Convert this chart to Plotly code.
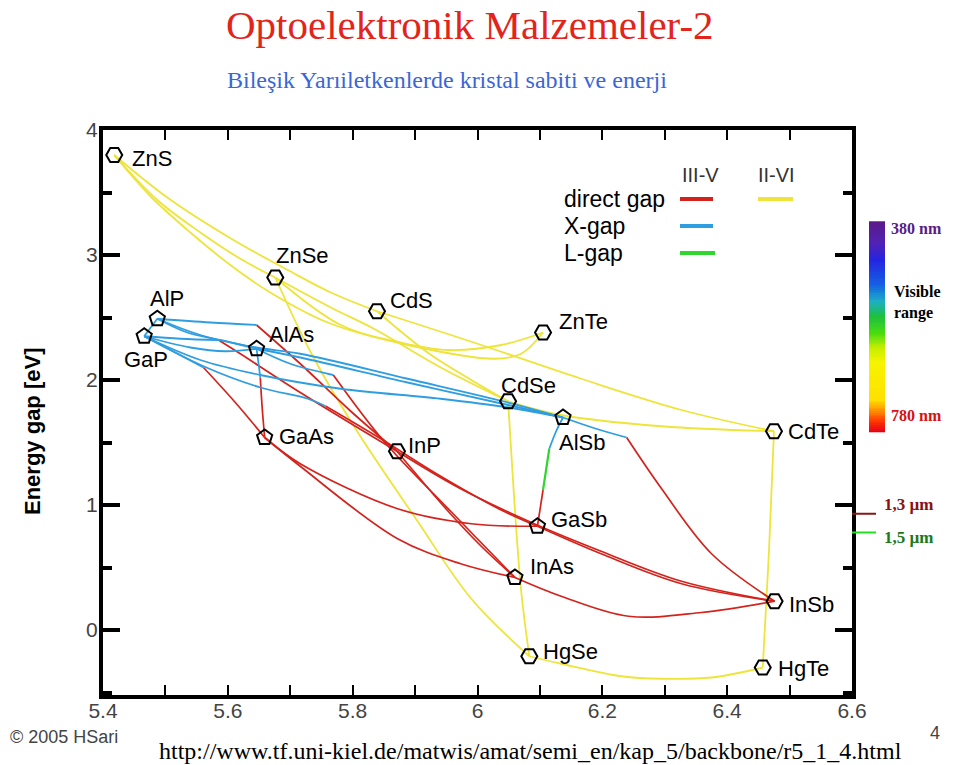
import numpy as np
import plotly.graph_objects as go

# ---------------- data ----------------
COMPOUNDS = ["ZnS", "ZnSe", "CdS", "ZnTe", "AlP", "GaP", "AlAs", "CdSe", "AlSb",
             "CdTe", "GaAs", "InP", "GaSb", "InAs", "InSb", "HgSe", "HgTe"]
LATTICE_A = [5.418, 5.676, 5.839, 6.105, 5.487, 5.466, 5.646, 6.049, 6.137,
             6.475, 5.659, 5.871, 6.096, 6.060, 6.476, 6.083, 6.457]
ENERGY_GAP = [3.80, 2.82, 2.55, 2.38, 2.49, 2.35, 2.25, 1.83, 1.70,
              1.59, 1.54, 1.43, 0.83, 0.42, 0.23, -0.21, -0.30]

# II-VI direct gap curves (lattice constant, gap)
ZNS_ZNSE = [(5.418, 3.80), (5.487, 3.44), (5.556, 3.18), (5.620, 2.97), (5.676, 2.82)]
ZNS_CDS = [(5.418, 3.80), (5.503, 3.46), (5.609, 3.12), (5.696, 2.88), (5.765, 2.70), (5.839, 2.55)]
ZNS_ZNTE = [(5.418, 3.80), (5.476, 3.47), (5.540, 3.18), (5.604, 2.92), (5.668, 2.70), (5.760, 2.46),
            (5.888, 2.28), (6.027, 2.17), (6.070, 2.21), (6.105, 2.38)]
ZNSE_ZNTE = [(5.676, 2.82), (5.781, 2.44), (5.877, 2.30), (5.953, 2.24), (6.038, 2.28), (6.105, 2.38)]
ZNSE_CDSE = [(5.676, 2.82), (5.765, 2.58), (5.834, 2.41), (5.941, 2.10), (6.049, 1.83)]
ZNSE_HGSE = [(5.676, 2.82), (5.733, 2.22), (5.802, 1.63), (5.904, 0.87), (5.990, 0.25), (6.083, -0.21)]
CDS_CDSE = [(5.839, 2.55), (5.920, 2.22), (5.990, 2.00), (6.049, 1.83)]
CDS_CDTE = [(5.839, 2.55), (5.994, 2.30), (6.166, 2.01), (6.327, 1.76), (6.475, 1.59)]
CDSE_CDTE = [(6.049, 1.83), (6.134, 1.72), (6.295, 1.63), (6.475, 1.59)]
CDSE_HGSE = [(6.049, 1.83), (6.059, 1.03), (6.070, 0.31), (6.083, -0.21)]
HGSE_HGTE = [(6.083, -0.21), (6.134, -0.27), (6.231, -0.37), (6.295, -0.39), (6.375, -0.38), (6.457, -0.30)]
CDTE_HGTE = [(6.475, 1.59), (6.467, 0.63), (6.457, -0.30)]

# III-V indirect (X) gap parts
ALP_GAP_X = [(5.487, 2.49), (5.466, 2.35)]
ALP_ALAS_X = [(5.487, 2.49), (5.535, 2.38), (5.588, 2.32), (5.646, 2.25)]
GAP_ALAS_X = [(5.466, 2.35), (5.540, 2.26), (5.596, 2.23), (5.646, 2.25)]
ALP_INP_X = [(5.487, 2.49), (5.572, 2.46), (5.646, 2.44)]
GAP_INP_X = [(5.466, 2.35), (5.524, 2.33), (5.585, 2.32)]
GAP_GAAS_X = [(5.466, 2.35), (5.516, 2.22), (5.561, 2.10)]
ALAS_GAAS_X = [(5.646, 2.25), (5.649, 2.14), (5.652, 2.02)]
ALAS_ALSB_X = [(5.646, 2.25), (5.716, 2.18), (5.888, 1.98), (6.049, 1.80), (6.137, 1.70)]
ALP_ALSB_X = [(5.487, 2.49), (5.556, 2.36), (5.646, 2.26), (5.716, 2.21), (5.888, 2.01), (6.049, 1.82), (6.137, 1.70)]
GAP_ALSB_X = [(5.466, 2.35), (5.556, 2.16), (5.652, 2.04), (5.781, 1.93), (5.941, 1.85), (6.049, 1.78), (6.137, 1.70)]
ALAS_INAS_X = [(5.646, 2.25), (5.700, 2.13), (5.769, 2.04)]
GAP_GASB_X = [(5.466, 2.35), (5.561, 2.11), (5.652, 1.94), (5.728, 1.85), (5.757, 1.79)]
ALSB_INSB_X = [(6.137, 1.70), (6.190, 1.61), (6.239, 1.54)]
ALSB_GASB_X = [(6.137, 1.70), (6.126, 1.59), (6.115, 1.45)]

# III-V L gap part
ALSB_GASB_L = [(6.115, 1.45), (6.105, 1.12)]

# III-V direct gap parts
ALP_INP_D = [(5.646, 2.44), (5.716, 2.13), (5.797, 1.75), (5.871, 1.43)]
GAP_INP_D = [(5.585, 2.32), (5.620, 2.21), (5.716, 1.90), (5.871, 1.43)]
GAP_GAAS_D = [(5.561, 2.10), (5.612, 1.82), (5.659, 1.54)]
ALAS_GAAS_D = [(5.652, 2.02), (5.655, 1.78), (5.659, 1.54)]
ALAS_INAS_D = [(5.769, 2.04), (5.850, 1.51), (5.957, 0.95), (6.060, 0.42)]
GAP_GASB_D = [(5.757, 1.79), (5.845, 1.53), (5.941, 1.23), (6.038, 0.96), (6.096, 0.83)]
GAAS_GASB = [(5.659, 1.54), (5.716, 1.33), (5.872, 0.97), (5.990, 0.85), (6.096, 0.83)]
GAAS_INAS = [(5.659, 1.54), (5.716, 1.31), (5.872, 0.73), (5.973, 0.53), (6.060, 0.42)]
INP_INAS = [(5.871, 1.43), (5.953, 0.95), (6.006, 0.67), (6.060, 0.42)]
INP_INSB = [(5.871, 1.43), (5.973, 1.13), (6.091, 0.85), (6.198, 0.63), (6.327, 0.39), (6.476, 0.23)]
GASB_INSB = [(6.096, 0.83), (6.198, 0.61), (6.327, 0.37), (6.476, 0.23)]
INAS_INSB = [(6.060, 0.42), (6.134, 0.27), (6.242, 0.11), (6.359, 0.14), (6.476, 0.23)]
ALSB_INSB_D = [(6.239, 1.54), (6.295, 1.13), (6.375, 0.61), (6.476, 0.23)]
ALSB_GASB_D = [(6.105, 1.12), (6.096, 0.83)]

II_VI_DIRECT = [ZNS_ZNSE, ZNS_CDS, ZNS_ZNTE, ZNSE_ZNTE, ZNSE_CDSE, ZNSE_HGSE, CDS_CDSE,
                CDS_CDTE, CDSE_CDTE, CDSE_HGSE, HGSE_HGTE, CDTE_HGTE]
III_V_X = [ALP_GAP_X, ALP_ALAS_X, GAP_ALAS_X, ALP_INP_X, GAP_INP_X, GAP_GAAS_X, ALAS_GAAS_X,
           ALAS_ALSB_X, ALP_ALSB_X, GAP_ALSB_X, ALAS_INAS_X, GAP_GASB_X, ALSB_INSB_X, ALSB_GASB_X]
III_V_L = [ALSB_GASB_L]
III_V_DIRECT = [ALP_INP_D, GAP_INP_D, GAP_GAAS_D, ALAS_GAAS_D, ALAS_INAS_D, GAP_GASB_D, GAAS_GASB,
                GAAS_INAS, INP_INAS, INP_INSB, GASB_INSB, INAS_INSB, ALSB_INSB_D, ALSB_GASB_D]

VISIBLE_NM = [380, 780]          # visible range
FIBER_LEVELS = [0.93, 0.78]      # 1,3 um and 1,5 um marks (eV, as drawn)
FIBER_TEXT = ["1,3 µm", "1,5 µm"]

# ---------------- styles ----------------
YELLOW = "#eee43a"
RED = "#d4231c"
BLUE = "#2f9ee0"
GREEN = "#2ed62e"
HEX_SET = {"ZnS", "ZnSe", "CdS", "ZnTe", "CdSe", "CdTe", "HgSe", "HgTe", "InP", "InSb"}
LABEL_SHIFT = {  # pixel offsets of the name from its marker
    "ZnS": (16, -3), "ZnSe": (-1, 22), "CdS": (11, 11), "ZnTe": (14, 11), "AlP": (-9, 20),
    "GaP": (-22, -23), "AlAs": (10, 14), "CdSe": (-9, 16), "AlSb": (-6, -25), "CdTe": (12, 0),
    "GaAs": (12, 1), "InP": (9, 6), "GaSb": (12, 7), "InAs": (13, 11), "InSb": (12, -3),
    "HgSe": (12, 5), "HgTe": (13, -1)}

# page body adds an 8 px offset; the figure is sized to fill the rest of the window
OFF = 8
W, H = 960 - OFF, 765 - OFF
L_PX, T_PX = 103 - OFF, 130 - OFF            # plot frame left / top (reference pixels - offset)
R_PX = 60
B_PX = H - (695 - OFF)
PW = W - L_PX - R_PX
PH = H - T_PX - B_PX


def px_x(p):       # reference pixel -> paper x
    return (p - OFF - L_PX) / PW


def px_y(p):       # reference pixel -> paper y
    return (H - B_PX - (p - OFF)) / PH


FRAME_END = px_x(852)
SANS = "Liberation Sans, Arial"
SERIF = "Liberation Serif, Times New Roman"

fig = go.Figure()


def add_curves(curves, color, width=1.8):
    for c in curves:
        fig.add_trace(go.Scatter(
            x=[p[0] for p in c], y=[p[1] for p in c], mode="lines",
            line=dict(color=color, width=width, shape="spline", smoothing=1.0),
            hoverinfo="skip", showlegend=False))


add_curves(II_VI_DIRECT, YELLOW)
add_curves(III_V_DIRECT, RED, 1.7)
add_curves(III_V_X, BLUE)
add_curves(III_V_L, GREEN, 2.2)

symbols = ["hexagon2-open" if n in HEX_SET else "pentagon-open" for n in COMPOUNDS]
fig.add_trace(go.Scatter(
    x=LATTICE_A, y=ENERGY_GAP, mode="markers",
    marker=dict(symbol=symbols, size=16, color="black", line=dict(width=2, color="black")),
    showlegend=False, hoverinfo="text", text=COMPOUNDS))


def note(x, y, text, font, xanchor="center", yanchor="middle", **kw):
    fig.add_annotation(x=x, y=y, text=text, showarrow=False, xanchor=xanchor,
                       yanchor=yanchor, font=font, **kw)


for n, a, e in zip(COMPOUNDS, LATTICE_A, ENERGY_GAP):
    dx, dy = LABEL_SHIFT[n]
    note(a, e, n, dict(family=SANS, size=22, color="black"), xanchor="left",
         xref="x", yref="y", xshift=dx, yshift=dy)

# visible range strip (energy = 1239.84 / wavelength)
e_hi = 1239.84 / VISIBLE_NM[0]
e_lo = 1239.84 / VISIBLE_NM[1]
ys = np.linspace(e_lo, e_hi, 120)
fig.add_trace(go.Heatmap(
    x=[0], y=ys, z=[[v] for v in ys], xaxis="x2", yaxis="y2",
    zmin=e_lo, zmax=e_hi, showscale=False, hoverinfo="skip",
    colorscale=[[0.0, "#e8001a"], [0.05, "#ff3a00"], [0.10, "#ff9200"], [0.15, "#ffe000"],
                [0.33, "#f6f400"], [0.40, "#c4ee00"], [0.47, "#48dc10"], [0.55, "#1cc040"],
                [0.62, "#1cb0c4"], [0.70, "#1460e4"], [0.82, "#2424e0"], [0.90, "#5222b4"],
                [1.0, "#5a1a8a"]]))

fig.update_layout(
    width=W, height=H, plot_bgcolor="white", paper_bgcolor="white",
    margin=dict(l=L_PX, r=R_PX, t=T_PX, b=B_PX, autoexpand=False),
    xaxis=dict(domain=[0, FRAME_END], range=[5.4, 6.6], dtick=0.2, tick0=5.4, automargin=False,
               showgrid=False, zeroline=False, showline=True, linewidth=4, linecolor="black",
               mirror="allticks", ticks="inside", ticklen=10, tickwidth=2, tickcolor="black",
               minor=dict(dtick=0.1, ticks="inside", ticklen=10, tickwidth=2, tickcolor="black"),
               tickfont=dict(family=SANS, size=21, color="#444"), ticklabelstandoff=-6),
    yaxis=dict(range=[-0.52, 4.0], dtick=1, tick0=0, showgrid=False, zeroline=False, automargin=False,
               showline=True, linewidth=4, linecolor="black", mirror="allticks",
               ticks="inside", ticklen=17, tickwidth=4, tickcolor="black",
               minor=dict(dtick=0.5, ticks="inside", ticklen=9, tickwidth=4, tickcolor="black"),
               tickfont=dict(family=SANS, size=21, color="#444"), ticklabelstandoff=-3),
    xaxis2=dict(domain=[px_x(869), px_x(885)], range=[-0.5, 0.5], visible=False,
                anchor="y2", automargin=False),
    yaxis2=dict(domain=[0, 1], range=[-0.52, 4.0], visible=False, anchor="x2", automargin=False),
)

# legend
leg_font = dict(family=SANS, size=23, color="black")
for txt, py in [("direct gap", 199), ("X-gap", 226), ("L-gap", 253)]:
    note(px_x(562), px_y(py), txt, leg_font, xanchor="left", xref="paper", yref="paper")
for txt, px in [("III-V", 700), ("II-VI", 776)]:
    note(px_x(px), px_y(175), txt, dict(family=SANS, size=20, color="#333"),
         xref="paper", yref="paper")
for (x0, x1, py, col) in [(680, 713, 199, RED), (758, 793, 199, YELLOW),
                          (680, 713, 226, BLUE), (680, 715, 253, GREEN)]:
    fig.add_shape(type="line", xref="paper", yref="paper", x0=px_x(x0), x1=px_x(x1),
                  y0=px_y(py), y1=px_y(py), line=dict(color=col, width=4))

# telecom marks
for lvl, txt, col, tcol, dy in zip(FIBER_LEVELS, FIBER_TEXT, ["#8b1414", "#22dd22"],
                                   ["#8b1010", "#1a7a1a"], [9, -5]):
    fig.add_shape(type="line", xref="paper", yref="y", x0=FRAME_END, x1=px_x(876),
                  y0=lvl, y1=lvl, line=dict(color=col, width=2))
    note(px_x(882), lvl, "<b>" + txt + "</b>", dict(family=SERIF, size=17, color=tcol),
         xanchor="left", xref="paper", yref="y", yshift=dy)

# visible range labels
note(px_x(889), px_y(228), "<b>%d nm</b>" % VISIBLE_NM[0], dict(family=SERIF, size=16, color="#5a1a8a"),
     xanchor="left", xref="paper", yref="paper")
note(px_x(889), px_y(415), "<b>%d nm</b>" % VISIBLE_NM[1], dict(family=SERIF, size=16, color="#d81010"),
     xanchor="left", xref="paper", yref="paper")
note(px_x(892), px_y(302), "<b>Visible<br>range</b>", dict(family=SERIF, size=16, color="black"),
     xanchor="left", xref="paper", yref="paper", align="left")

# axis title
note(px_x(32), px_y(432), "<b>Energy gap [eV]</b>", dict(family=SANS, size=22, color="black"),
     xref="paper", yref="paper", textangle=-90)

# titles and footer
note(px_x(470), px_y(25), "Optoelektronik Malzemeler-2", dict(family=SERIF, size=41, color="#e3241b"),
     xref="paper", yref="paper")
note(px_x(447), px_y(80), "Bileşik Yarıiletkenlerde kristal sabiti ve enerji",
     dict(family=SERIF, size=24, color="#3a66d6"), xref="paper", yref="paper")
note(px_x(530), px_y(751), "http://www.tf.uni-kiel.de/matwis/amat/semi_en/kap_5/backbone/r5_1_4.html",
     dict(family=SERIF, size=24, color="black"), xref="paper", yref="paper")
note(px_x(8), px_y(737), "© 2005 HSari", dict(family=SANS, size=18, color="#444"),
     xanchor="left", xref="paper", yref="paper")
note(px_x(935), px_y(733), "4", dict(family=SANS, size=18, color="#444"),
     xref="paper", yref="paper")

fig.write_html("out.html")
